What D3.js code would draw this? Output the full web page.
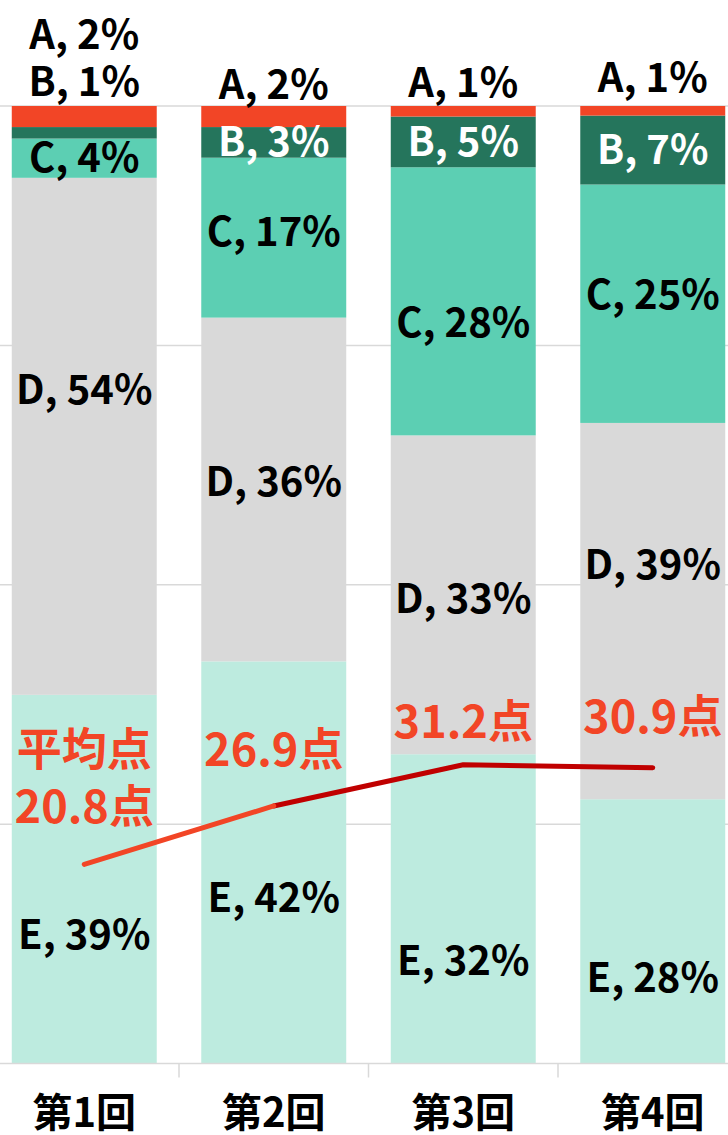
<!DOCTYPE html>
<html>
<head>
<meta charset="utf-8">
<script src="https://cdn.jsdelivr.net/npm/d3@7"></script>
<style>
  body { margin: 0; background: #fff; }
  svg { display: block; }
  text { font-family: "Noto Sans CJK JP", "Noto Sans", sans-serif; font-weight: 700; }
</style>
</head>
<body>
<div class="canvas"></div>
<script>
var width = 728,
   height = 1135;

// data
var rounds = ['第1回', '第2回', '第3回', '第4回'];
var seriesKeys = ['E', 'D', 'C', 'B', 'A']; // bottom to top
var valA = [2.2, 2.2, 1.1, 1.0];
var valB = [1.2, 3.2, 5.3, 7.2];
var valC = [4.1, 16.7, 28.0, 24.9];
var valD = [54.0, 35.9, 33.3, 39.3];
var valE = [38.5, 42.0, 32.3, 27.6];
var avgScore = [20.8, 26.9, 31.2, 30.9];
var yTicks = [0, 25, 50, 75, 100];

var colors = {
   A: '#f24526',
   B: '#25755c',
   C: '#5ccfb3',
   D: '#d9d9d9',
   E: '#bdebdf'
};
var labelColor = { A: '#000', B: '#fff', C: '#000', D: '#000', E: '#000' };
var avgColor = '#f24526';

// hand placed label nudges (px from the segment centre), like the original
var labelNudge = {
   C: [0, -6, 22, -9],
   D: [-46, -7, 4, -46],
   E: [56, 36, 52, 47]
};
var aNudge = [-71, -21, -23, -28];   // A labels sit above the bar
var avgNudge = [-58, -56, -43, -51];
var baseFix = -3; // central baseline sits a bit low for latin caps

var table = rounds.map(function(r, i) {
   return { round: r, A: valA[i], B: valB[i], C: valC[i], D: valD[i], E: valE[i], avg: avgScore[i] };
});

var stacked = d3.stack().keys(seriesKeys)(table);

var x = d3.scaleBand()
   .domain(rounds)
   .range([-10.5, 747.5])
   .paddingInner(0.235)
   .paddingOuter(0.1175);

var y = d3.scaleLinear()
   .domain([0, 100])
   .range([1063.5, 106]);

var svg = d3.select('.canvas')
   .append('svg')
   .attr('width', width)
   .attr('height', height);

// gridlines
svg.append('g')
   .selectAll('line')
   .data(yTicks.slice(1))
   .enter().append('line')
      .attr('x1', 0)
      .attr('x2', width)
      .attr('y1', function(d) { return y(d); })
      .attr('y2', function(d) { return y(d); })
      .attr('stroke', '#d9d9d9')
      .attr('stroke-width', 1.5);

// bars
var layers = svg.append('g')
   .selectAll('g')
   .data(stacked)
   .enter().append('g')
      .attr('fill', function(d) { return colors[d.key]; });

layers.selectAll('rect')
   .data(function(d) { return d; })
   .enter().append('rect')
      .attr('x', function(d) { return x(d.data.round); })
      .attr('width', x.bandwidth())
      .attr('y', function(d) { return y(d[1]); })
      .attr('height', function(d) { return y(d[0]) - y(d[1]); });

// x axis
var xAxis = svg.append('g')
   .attr('transform', 'translate(0,' + y(0) + ')');
xAxis.append('line')
   .attr('x1', 0).attr('x2', width)
   .attr('stroke', '#d9d9d9').attr('stroke-width', 1.5);
xAxis.selectAll('.tick')
   .data(rounds.slice(1))
   .enter().append('line')
      .attr('x1', function(d) { return x(d) - x.step() * x.paddingInner() / 2; })
      .attr('x2', function(d) { return x(d) - x.step() * x.paddingInner() / 2; })
      .attr('y1', 0).attr('y2', 14)
      .attr('stroke', '#d9d9d9').attr('stroke-width', 1.5);
xAxis.selectAll('.lbl')
   .data(rounds)
   .enter().append('text')
      .attr('x', function(d) { return x(d) + x.bandwidth() / 2; })
      .attr('y', 46)
      .attr('text-anchor', 'middle')
      .attr('dominant-baseline', 'central')
      .attr('font-size', 40)
      .attr('fill', '#000')
      .text(function(d) { return d; });

// segment labels
var cx = function(r) { return x(r) + x.bandwidth() / 2; };
var labels = svg.append('g');
stacked.forEach(function(layer) {
   var key = layer.key;
   layer.forEach(function(d, i) {
      var ly;
      if (key === 'A') {
         ly = y(d[1]) + aNudge[i];
      } else if (key === 'B' && i === 0) {
         ly = y(100) - 24;  // too thin, goes above the bar under A
      } else {
         ly = (y(d[0]) + y(d[1])) / 2 + (labelNudge[key] ? labelNudge[key][i] : 0);
      }
      var col = (key === 'B' && i === 0) ? '#000' : labelColor[key];
      labels.append('text')
         .attr('x', cx(d.data.round))
         .attr('y', ly + baseFix)
         .attr('text-anchor', 'middle')
         .attr('dominant-baseline', 'central')
         .attr('font-size', 40)
         .attr('fill', col)
         .text(key + ', ' + Math.round(d.data[key]) + '%');
   });
});

// average line: first leg orange, rest dark red
var line = d3.line()
   .x(function(d) { return cx(d.round); })
   .y(function(d) { return y(d.avg); });

svg.append('path')
   .datum(table.slice(1))
   .attr('d', line)
   .attr('fill', 'none')
   .attr('stroke', '#c00000')
   .attr('stroke-width', 5)
   .attr('stroke-linecap', 'round')
   .attr('stroke-linejoin', 'round');

svg.append('path')
   .datum(table.slice(0, 2))
   .attr('d', line)
   .attr('fill', 'none')
   .attr('stroke', avgColor)
   .attr('stroke-width', 5)
   .attr('stroke-linecap', 'round');

// average labels
table.forEach(function(d, i) {
   var ly = y(d.avg) + avgNudge[i] + baseFix;
   var t = svg.append('text')
      .attr('text-anchor', 'middle')
      .attr('dominant-baseline', 'central')
      .attr('font-size', 45)
      .attr('fill', avgColor);
   if (i === 0) {
      t.append('tspan').attr('x', cx(d.round)).attr('y', ly - 57).text('平均点');
      t.append('tspan').attr('x', cx(d.round)).attr('y', ly).text(d.avg + '点');
   } else {
      t.attr('x', cx(d.round)).attr('y', ly).text(d.avg + '点');
   }
});
</script>
</body>
</html>
